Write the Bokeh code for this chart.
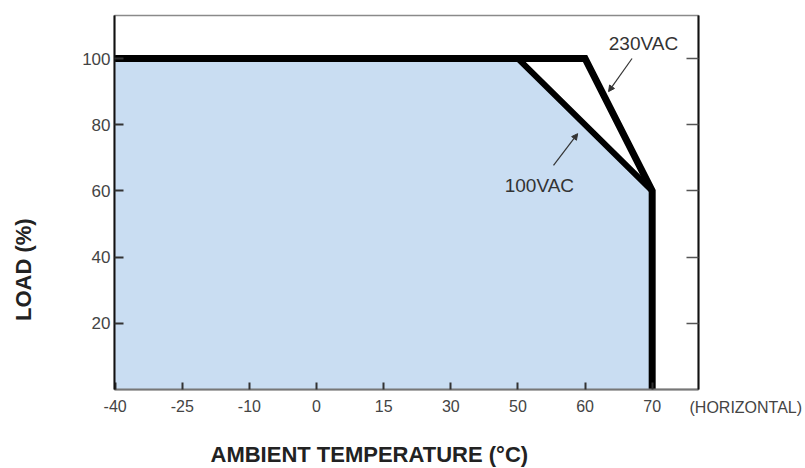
import numpy as np
from bokeh.plotting import figure
from bokeh.models import (FixedTicker, Label, Arrow, NormalHead, LinearAxis, Range1d, Title)
from bokeh.embed import file_html
from bokeh.resources import INLINE

# ---- data ----
temp_ticks = [-40, -25, -10, 0, 15, 30, 50, 60, 70]
tick_labels = ["-40", "-25", "-10", "0", "15", "30", "50", "60", "70"]
load_ticks = [20, 40, 60, 80, 100]

t_230 = [-40, 60, 70, 70]
load_230 = [100, 100, 60, 0]
t_100 = [-40, 50, 70]
load_100 = [100, 100, 60]

FONT = "Liberation Sans"

pos = np.arange(len(temp_ticks))
def tx(t):
    return np.interp(t, temp_ticks, pos)

p = figure(frame_width=584, frame_height=374, output_backend="svg", toolbar_location=None,
           x_range=Range1d(-0.01, 8.69), y_range=Range1d(0, 113),
           min_border_left=114, min_border_right=107, min_border_top=15, min_border_bottom=40)
p.xgrid.visible = False
p.ygrid.visible = False
p.outline_line_color = "#8a8a8a"
p.outline_line_width = 1.5
p.background_fill_color = "white"

# fill under 100VAC curve
fx = list(tx(t_100)) + [tx(70), tx(-40)]
fy = load_100 + [0, 0]
p.patch(fx, fy, fill_color="#c9ddf2", line_color=None)

p.line(tx(t_230), load_230, line_color="black", line_width=7, line_join="miter")
p.line(tx(t_100), load_100, line_color="black", line_width=6, line_join="miter")

# axes
xa = p.xaxis[0]
xa.ticker = FixedTicker(ticks=list(pos))
xa.major_label_overrides = {int(i): s for i, s in zip(pos, tick_labels)}
xa.major_tick_in = 7
xa.major_tick_out = 0
xa.minor_tick_line_color = None
xa.axis_line_color = "#777777"
xa.axis_line_width = 2
xa.major_tick_line_color = "#333333"
xa.major_tick_line_width = 2
xa.major_label_text_font = FONT
xa.major_label_text_font_size = "16px"
xa.major_label_text_color = "#444444"
xa.major_label_standoff = 10

ya = p.yaxis[0]
ya.ticker = FixedTicker(ticks=load_ticks)
ya.major_tick_in = 9
ya.major_tick_out = 0
ya.minor_tick_line_color = None
ya.axis_line_color = "#111111"
ya.axis_line_width = 2
ya.major_tick_line_color = "#333333"
ya.major_tick_line_width = 2
ya.major_label_text_font = FONT
ya.major_label_text_font_size = "17px"
ya.major_label_text_color = "#444444"
ya.major_label_standoff = 4

# y title carried by a bare axis; trailing no-break spaces move the words lower
ytitle = LinearAxis(ticker=FixedTicker(ticks=[]),
                    axis_label="LOAD (%)" + "\u00a0" * 22, axis_label_standoff=44,
                    axis_label_text_font=FONT, axis_label_text_font_size="22px",
                    axis_label_text_font_style="bold", axis_label_text_color="#222222",
                    axis_line_color=None, major_tick_line_color=None,
                    minor_tick_line_color=None, major_tick_in=0, major_tick_out=0,
                    minor_tick_in=0, minor_tick_out=0)
p.add_layout(ytitle, "left")

ra = LinearAxis(ticker=FixedTicker(ticks=load_ticks))
ra.major_label_text_font_size = "0px"
ra.major_label_text_color = None
ra.major_tick_in = 12
ra.major_tick_out = 0
ra.minor_tick_line_color = None
ra.axis_line_color = "#111111"
ra.axis_line_width = 2
ra.major_tick_line_color = "#555555"
ra.major_tick_line_width = 1.5
p.add_layout(ra, "right")

# annotations inside the frame
p.add_layout(Label(x=7.87, y=104.5, text="230VAC", text_font=FONT, text_font_size="19px",
                   text_color="#333333", text_align="center", text_baseline="middle"))
p.add_layout(Label(x=6.32, y=61.6, text="100VAC", text_font=FONT, text_font_size="19px",
                   text_color="#333333", text_align="center", text_baseline="middle"))
head = dict(size=6, line_color="#333333", fill_color="#333333")
p.add_layout(Arrow(x_start=7.70, y_start=100, x_end=7.35, y_end=90,
                   line_color="#333333", line_width=1.2, end=NormalHead(**head)))
p.add_layout(Arrow(x_start=6.53, y_start=67.7, x_end=6.89, y_end=77.3,
                   line_color="#333333", line_width=1.2, end=NormalHead(**head)))

# texts below the frame, in side panels
p.add_layout(Label(x=575, y=24, x_units="screen", y_units="screen", text="(HORIZONTAL)",
                   text_font=FONT, text_font_size="16px",
                   text_color="#444444", text_align="left", text_baseline="middle"), "below")
p.add_layout(Title(text="AMBIENT TEMPERATURE (°C)", align="left", offset=96, standoff=16,
                   text_font=FONT, text_font_size="22px", text_font_style="bold",
                   text_color="#222222"), "below")

open("out.html", "w").write(file_html(p, INLINE))
